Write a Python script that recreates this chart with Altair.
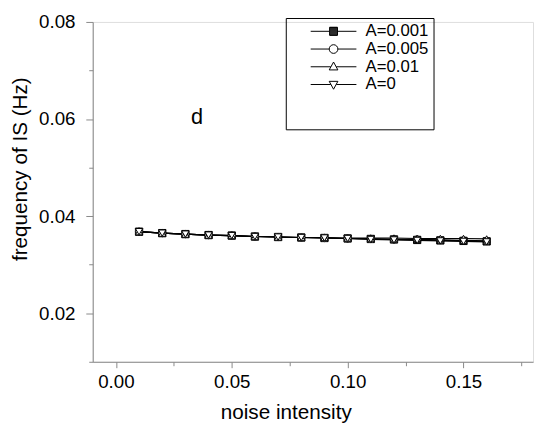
import altair as alt
import pandas as pd

# ---- data ----
noise = [0.01, 0.02, 0.03, 0.04, 0.05, 0.06, 0.07, 0.08,
         0.09, 0.10, 0.11, 0.12, 0.13, 0.14, 0.15, 0.16]
series_names = ["A=0.001", "A=0.005", "A=0.01", "A=0"]
freq_a0001 = [0.0368, 0.0365, 0.0363, 0.0361, 0.0360, 0.0358, 0.0357, 0.0356,
              0.0355, 0.0354, 0.0353, 0.0352, 0.0351, 0.0350, 0.0349, 0.0348]
freq_a0005 = [0.0368, 0.0365, 0.0363, 0.0361, 0.0360, 0.0358, 0.0357, 0.0356,
              0.0355, 0.0354, 0.0353, 0.0352, 0.0352, 0.0351, 0.0350, 0.0349]
freq_a001 = [0.0368, 0.0365, 0.0363, 0.0361, 0.0360, 0.0358, 0.0357, 0.0356,
             0.0356, 0.0355, 0.0355, 0.0355, 0.0354, 0.0354, 0.0354, 0.0353]
freq_a0 = [0.0368, 0.0365, 0.0363, 0.0361, 0.0360, 0.0358, 0.0357, 0.0356,
           0.0355, 0.0354, 0.0352, 0.0351, 0.0350, 0.0349, 0.0348, 0.0347]
x_ticks = [0.0, 0.025, 0.05, 0.075, 0.10, 0.125, 0.15, 0.175]
y_ticks = [0.01, 0.02, 0.03, 0.04, 0.05, 0.06, 0.07, 0.08]
panel_label = ["d"]
panel_label_x = [0.035]
panel_label_y = [0.0604]

rows = []
for name, vals in zip(series_names, [freq_a0001, freq_a0005, freq_a001, freq_a0]):
    for xv, yv in zip(noise, vals):
        rows.append({"noise": xv, "freq": yv, "series": name})
df = pd.DataFrame(rows)
label_df = pd.DataFrame({"x": panel_label_x, "y": panel_label_y, "t": panel_label})

FONT = "Liberation Sans"

x_scale = alt.Scale(domain=[-0.01, 0.18], nice=False, zero=False)
y_scale = alt.Scale(domain=[0.01, 0.08], nice=False, zero=False)

x_major = "abs(datum.value*20 - round(datum.value*20)) < 1e-6"
y_major = "abs(datum.value*50 - round(datum.value*50)) < 1e-6"

x_axis = alt.Axis(
    values=x_ticks, title="noise intensity", grid=False,
    labelExpr=f"{x_major} ? format(datum.value, '.2f') : ''",
    labelOverlap=False, labelFlush=False,
    tickSize={"condition": {"test": x_major, "value": 6}, "value": 4},
    labelPadding=5, labelFontSize=19, titleFontSize=21,
    titleFontWeight="normal", titleX=196, titleY=52,
    titleBaseline="middle", titleAlign="center",
)
y_axis = alt.Axis(
    values=y_ticks, title="frequency of IS (Hz)", grid=False,
    labelExpr=f"{y_major} ? format(datum.value, '.2f') : ''",
    labelOverlap=False, labelFlush=False,
    tickSize={"condition": {"test": y_major, "value": 7}, "value": 4},
    labelPadding=11, labelFontSize=19, titleFontSize=21,
    titleFontWeight="normal", titleX=-73, titleY=149,
    titleBaseline="middle", titleAlign="center",
)

base = alt.Chart(df)

lines = base.mark_line(color="black", strokeWidth=1.2).encode(
    x=alt.X("noise:Q", scale=x_scale, axis=x_axis),
    y=alt.Y("freq:Q", scale=y_scale, axis=y_axis),
    detail="series:N",
)

points = base.mark_point(filled=True, stroke="black", strokeWidth=1, size=55,
                         opacity=1).encode(
    x=alt.X("noise:Q", scale=x_scale),
    y=alt.Y("freq:Q", scale=y_scale),
    shape=alt.Shape("series:N", legend=None, scale=alt.Scale(
        domain=series_names,
        range=["square", "circle", "triangle-up", "triangle-down"])),
    fill=alt.Fill("series:N", legend=None, scale=alt.Scale(
        domain=series_names, range=["black", "white", "white", "white"])),
)

# legend symbols: line segment plus marker (units of 8px); square is hatched solid
hatch = "".join(f"M-0.5,{v:.3f}L0.5,{v:.3f}" for v in
                [-0.5, -0.375, -0.25, -0.125, 0, 0.125, 0.25, 0.375, 0.5])
leg_square = "M-2.9,0L-0.5,0M0.5,0L2.9,0M-0.5,-0.5L0.5,-0.5L0.5,0.5L-0.5,0.5Z" + hatch
leg_circle = ("M-2.9,0L-0.55,0M0.55,0L2.9,0"
              "M-0.55,0A0.55,0.55,0,1,0,0.55,0A0.55,0.55,0,1,0,-0.55,0Z")
leg_tup = "M-2.9,0L-0.35,0M0.35,0L2.9,0M0,-0.6L0.55,0.4L-0.55,0.4Z"
leg_tdown = "M-2.9,0L-0.35,0M0.35,0L2.9,0M0,0.6L0.55,-0.4L-0.55,-0.4Z"

legend = alt.Legend(
    orient="none", legendX=196, legendY=-4, title=" ", titleOrient="bottom",
    titleFontSize=20, titlePadding=12, titleFont=FONT,
    strokeColor="black", padding=5, symbolSize=256,
    symbolStrokeColor="black", symbolStrokeWidth=1, symbolOffset=35,
    symbolFillColor="transparent", symbolOpacity=1,
    labelOffset=24, labelFontSize=17, labelFont=FONT, rowPadding=0,
)

legend_layer = base.transform_filter("false").mark_point(
    filled=False, stroke="black", strokeWidth=1).encode(
    x=alt.X("noise:Q", scale=x_scale),
    y=alt.Y("freq:Q", scale=y_scale),
    shape=alt.Shape("series:N", legend=legend, scale=alt.Scale(
        domain=series_names, range=[leg_square, leg_circle, leg_tup, leg_tdown])),
)

text = alt.Chart(label_df).mark_text(fontSize=22, font=FONT, color="black").encode(
    x=alt.X("x:Q", scale=x_scale),
    y=alt.Y("y:Q", scale=y_scale),
    text="t:N",
)

chart = alt.layer(lines, points, legend_layer, text).resolve_scale(
    shape="independent", fill="independent"
).properties(
    width=447, height=345,
    autosize=alt.AutoSizeParams(type="none"),
    padding={"left": 86, "top": 11, "right": 1, "bottom": 60},
).configure_view(stroke=None).configure_axis(
    domainColor="black", tickColor="black", labelColor="black",
    titleColor="black", labelFont=FONT, titleFont=FONT,
    domainWidth=1, tickWidth=1,
).configure(background="white")

chart.save("out.html", embed_options={"renderer": "svg", "actions": False})
